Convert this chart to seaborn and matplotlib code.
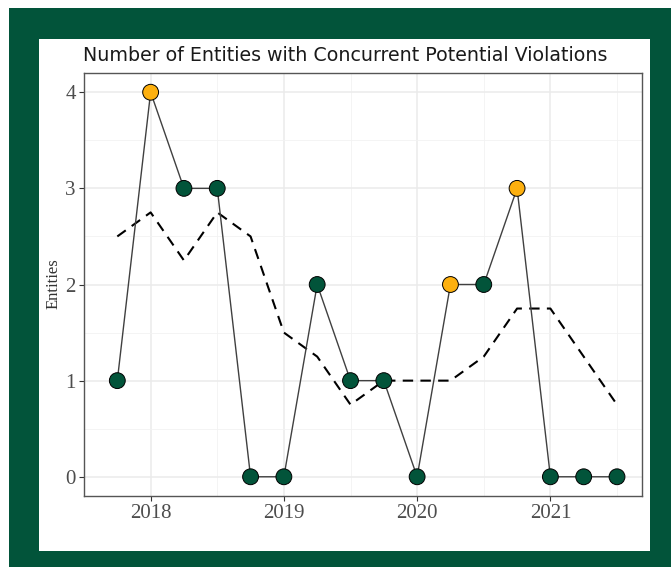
import matplotlib
matplotlib.use("Agg")
import matplotlib.pyplot as plt
from matplotlib.patches import Rectangle
import seaborn as sns
import pandas as pd

# ---- data ----
quarters = [2017.75, 2018.0, 2018.25, 2018.5, 2018.75, 2019.0, 2019.25, 2019.5,
            2019.75, 2020.0, 2020.25, 2020.5, 2020.75, 2021.0, 2021.25, 2021.5]
entities = [1, 4, 3, 3, 0, 0, 2, 1, 1, 0, 2, 2, 3, 0, 0, 0]
rolling_avg = [2.5, 2.75, 2.25, 2.75, 2.5, 1.5, 1.25, 0.75,
               1.0, 1.0, 1.0, 1.25, 1.75, 1.75, 1.25, 0.75]
flag = ["no", "yes", "no", "no", "no", "no", "no", "no",
        "no", "no", "yes", "no", "yes", "no", "no", "no"]
x_ticks = [2018, 2019, 2020, 2021]
x_tick_labels = ["2018", "2019", "2020", "2021"]
y_ticks = [0, 1, 2, 3, 4]
title = "Number of Entities with Concurrent Potential Violations"
ylabel = "Entities"

GREEN = "#02543A"
ORANGE = "#FDB00F"

df = pd.DataFrame({"quarter": quarters, "entities": entities,
                   "avg": rolling_avg, "flag": flag})

W, H = 671, 567
fig = plt.figure(figsize=(W / 100, H / 100), dpi=100)
fig.patch.set_facecolor("white")

# green frame and white panel
fig.patches.append(Rectangle((9 / W, 0), (W - 9) / W, (H - 8) / H,
                             transform=fig.transFigure, facecolor=GREEN,
                             edgecolor="none", zorder=-2))
fig.patches.append(Rectangle((39 / W, 16 / H), (650 - 39) / W, (551 - 39) / H,
                             transform=fig.transFigure, facecolor="white",
                             edgecolor="none", zorder=-1))

ax = fig.add_axes([84 / W, 71 / H, (642 - 84) / W, (496 - 73) / H])
ax.set_facecolor("white")

sns.lineplot(data=df, x="quarter", y="avg", ax=ax, color="black",
             linewidth=1.5, linestyle=(0, (5, 3.5)), zorder=2)
sns.lineplot(data=df, x="quarter", y="entities", ax=ax, color="#404040",
             linewidth=1.0, zorder=3)
sns.scatterplot(data=df, x="quarter", y="entities", hue="flag",
                palette={"no": GREEN, "yes": ORANGE}, s=130,
                edgecolor="black", linewidth=0.7, ax=ax, zorder=4, legend=False)

ax.set_xlim(2017.5625, 2021.6875)
ax.set_ylim(-0.2, 4.2)
ax.set_xticks(x_ticks)
ax.set_xticklabels(x_tick_labels)
ax.set_yticks(y_ticks)
ax.set_xticks([2017.5, 2018.5, 2019.5, 2020.5, 2021.5], minor=True)
ax.set_yticks([0.5, 1.5, 2.5, 3.5], minor=True)
ax.grid(which="major", color="#ebebeb", linewidth=1.1, zorder=0)
ax.grid(which="minor", color="#f2f2f2", linewidth=0.6, zorder=0)
ax.set_axisbelow(True)
ax.tick_params(which="minor", length=0)
ax.tick_params(which="major", length=3.5, width=0.8, color="#333333",
               labelcolor="#4d4d4d", pad=2.5)
for lab in ax.get_xticklabels() + ax.get_yticklabels():
    lab.set_fontfamily("Liberation Serif")
    lab.set_fontsize(15)
for sp in ax.spines.values():
    sp.set_color("#555555")
    sp.set_linewidth(1.0)
ax.set_xlabel("")
ax.set_ylabel("")

fig.text(83 / W, (H - 61) / H, title, ha="left", va="baseline",
         fontsize=13.7, family="DejaVu Sans", color="#1a1a1a")
fig.text(54 / W, (H - 284) / H, ylabel, ha="center", va="center",
         rotation=90, fontsize=12, family="Liberation Serif", color="#333333")

fig.savefig("out.png", dpi=100, facecolor=fig.get_facecolor())
